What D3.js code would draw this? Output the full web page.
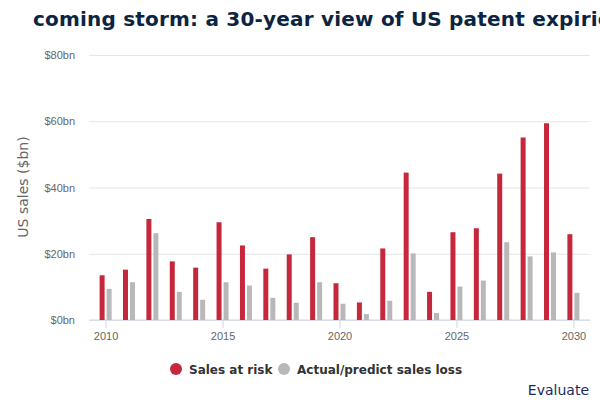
<!DOCTYPE html>
<html>
<head>
<meta charset="utf-8">
<script src="https://cdn.jsdelivr.net/npm/d3@7"></script>
<style>
  html, body { margin: 0; padding: 0; background: #fff; }
  svg { display: block; font-family: "DejaVu Sans", Verdana, sans-serif; }
</style>
</head>
<body>
<svg id="chart" width="600" height="400"></svg>
<script>
// US patent expiries: sales at risk vs actual/predicted sales loss, $bn
const years = [2010, 2011, 2012, 2013, 2014, 2015, 2016, 2017, 2018, 2019, 2020,
               2021, 2022, 2023, 2024, 2025, 2026, 2027, 2028, 2029, 2030];
const salesAtRisk = [13.5, 15.2, 30.5, 17.7, 15.8, 29.5, 22.5, 15.5, 19.8, 25.0, 11.1,
                     5.3, 21.6, 44.5, 8.5, 26.5, 27.7, 44.2, 55.1, 59.4, 25.9];
const salesLoss = [9.4, 11.4, 26.2, 8.5, 6.1, 11.4, 10.4, 6.7, 5.2, 11.4, 4.9,
                   1.8, 5.8, 20.1, 2.1, 10.1, 11.9, 23.5, 19.2, 20.4, 8.2];
const yTicks = [0, 20, 40, 60, 80];
const xTicks = [2010, 2015, 2020, 2025, 2030];

const RED = "#c5283d";
const GREY = "#b8b8b8";
const BAR_W = 5;

const svg = d3.select("#chart");

const x = d3.scaleLinear().domain([2009.29, 2030.71]).range([89, 590]);
const y = d3.scaleLinear().domain([0, 80]).range([320, 55]);

// title: the original is cropped, its left part is off the frame
svg.append("text")
  .attr("x", 33).attr("y", 26)
  .style("font-size", "20px")
  .style("font-weight", "bold")
  .style("letter-spacing", "0.2px")
  .style("fill", "#0c2440")
  .text("coming storm: a 30-year view of US patent expiries");

// gridlines + y labels
const yAxis = d3.axisLeft(y)
  .tickValues(yTicks)
  .tickSize(-(590 - 89))
  .tickPadding(14)
  .tickFormat(d => `$${d}bn`);
const gy = svg.append("g").attr("transform", "translate(89,0)").call(yAxis);
gy.select(".domain").remove();
gy.selectAll(".tick line").attr("stroke", "#e6e6e6");
gy.selectAll(".tick text")
  .style("font-size", "11px")
  .style("fill", "#666");

svg.append("text")
  .attr("transform", "translate(28,187) rotate(-90)")
  .attr("text-anchor", "middle")
  .style("font-size", "14px")
  .style("fill", "#666")
  .text("US sales ($bn)");

// x axis
const xAxis = d3.axisBottom(x)
  .tickValues(xTicks)
  .tickSize(8)
  .tickPadding(4)
  .tickFormat(d3.format("d"));
const gx = svg.append("g").attr("transform", "translate(0,320)").call(xAxis);
gx.select(".domain").attr("stroke", "#ccd6eb").attr("d", "M89,0H590");
gx.selectAll(".tick line").attr("stroke", "#ccd6eb");
gx.selectAll(".tick text")
  .style("font-size", "11px")
  .style("fill", "#666");

// bars
const bars = svg.append("g");
bars.selectAll("rect.risk")
  .data(years)
  .join("rect")
  .attr("class", "risk")
  .attr("x", (d) => x(d) - 1 - BAR_W)
  .attr("y", (d, i) => y(salesAtRisk[i]))
  .attr("width", BAR_W)
  .attr("height", (d, i) => y(0) - y(salesAtRisk[i]))
  .attr("fill", RED);

bars.selectAll("rect.loss")
  .data(years)
  .join("rect")
  .attr("class", "loss")
  .attr("x", (d) => x(d) + 1)
  .attr("y", (d, i) => y(salesLoss[i]))
  .attr("width", BAR_W)
  .attr("height", (d, i) => y(0) - y(salesLoss[i]))
  .attr("fill", GREY);

// legend
const legend = [
  { label: "Sales at risk", color: RED, x: 176 },
  { label: "Actual/predict sales loss", color: GREY, x: 284 }
];
const lg = svg.append("g").selectAll("g").data(legend).join("g")
  .attr("transform", d => `translate(${d.x},369)`);
lg.append("circle").attr("r", 6).attr("fill", d => d.color);
lg.append("text")
  .attr("x", 13).attr("y", 4.5)
  .style("font-size", "12px")
  .style("font-weight", "bold")
  .style("fill", "#333")
  .text(d => d.label);

// credit
svg.append("text")
  .attr("x", 589).attr("y", 395)
  .attr("text-anchor", "end")
  .style("font-size", "14px")
  .style("fill", "#1b2a5c")
  .text("Evaluate");
</script>
</body>
</html>
